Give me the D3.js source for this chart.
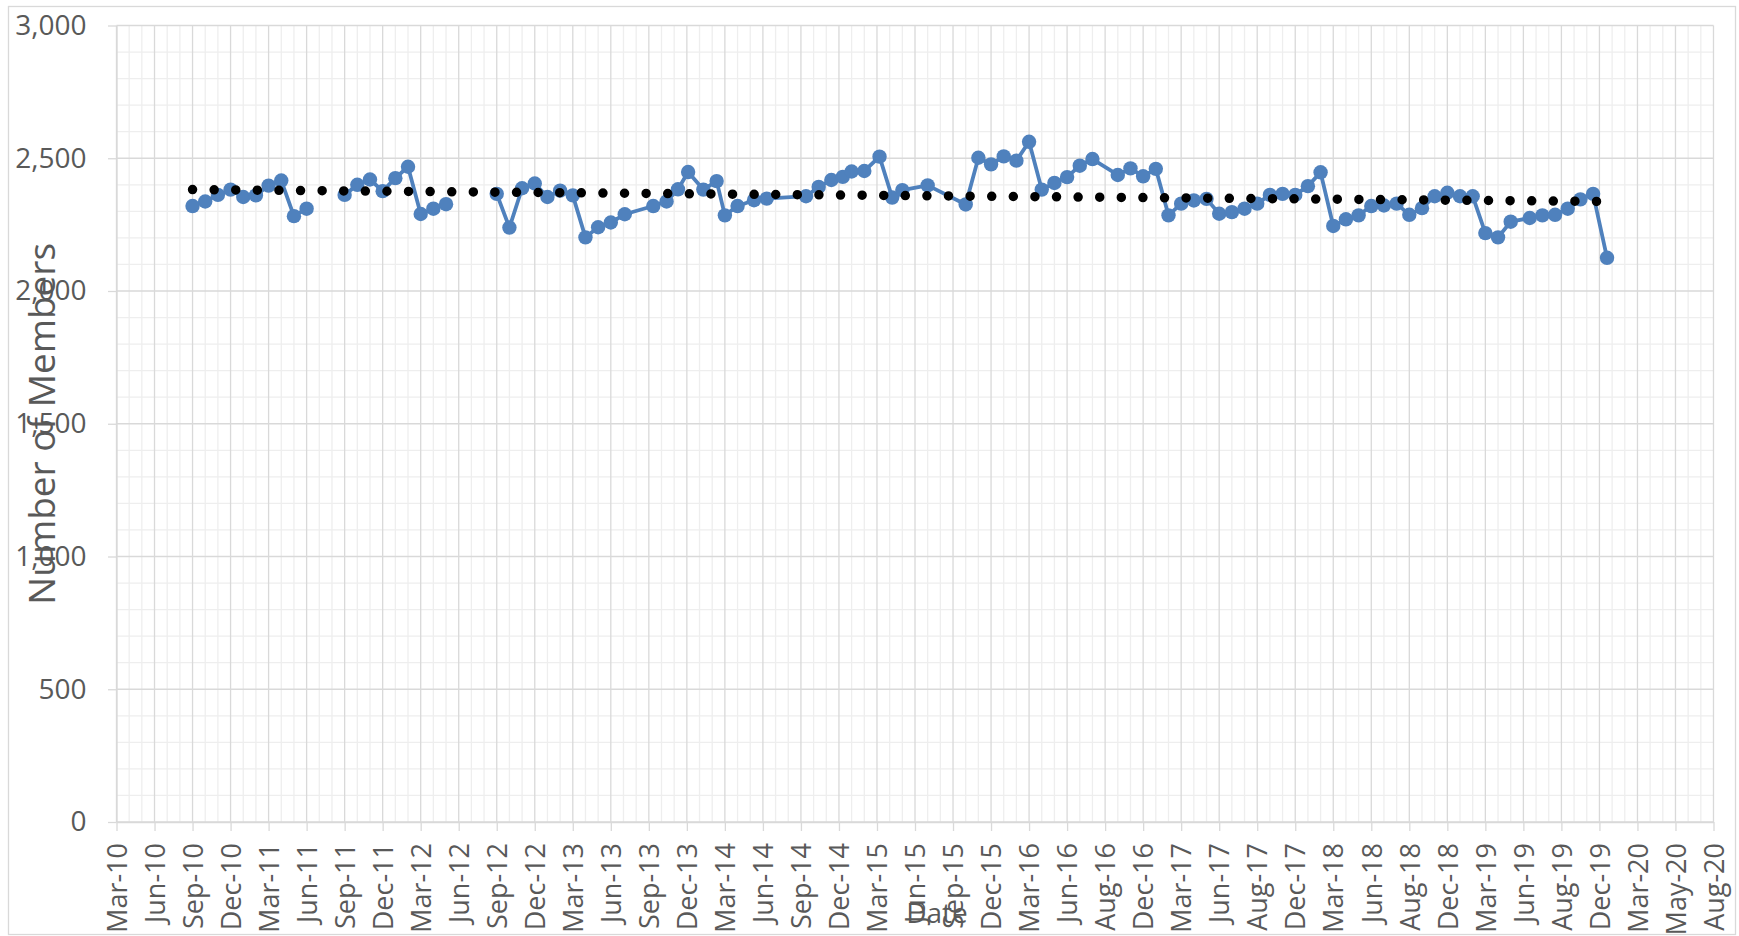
<!DOCTYPE html>
<html>
<head>
  <title>Number of Members</title>
  <script src="https://d3js.org/d3.v7.min.js"></script>
  <style>
    body { margin: 0; background: #fff; }
    text { font-family: "Open Sans", sans-serif; fill: #595959; }
  </style>
</head>
<body>

<div id="chart"></div>

<script>
// Tick labels on the x axis, one every 3 months (slot 0 = Mar-10)
const tickLabels = [
  "Mar-10", "Jun-10", "Sep-10", "Dec-10", "Mar-11", "Jun-11", "Sep-11", "Dec-11",
  "Mar-12", "Jun-12", "Sep-12", "Dec-12", "Mar-13", "Jun-13", "Sep-13", "Dec-13",
  "Mar-14", "Jun-14", "Sep-14", "Dec-14", "Mar-15", "Jun-15", "Sep-15", "Dec-15",
  "Mar-16", "Jun-16", "Aug-16", "Dec-16", "Mar-17", "Jun-17", "Aug-17", "Dec-17",
  "Mar-18", "Jun-18", "Aug-18", "Dec-18", "Mar-19", "Jun-19", "Aug-19", "Dec-19",
  "Mar-20", "May-20", "Aug-20"
];

// Position of each reading on the date axis, in months after Mar-10
const slots = [
  6, 7, 8, 9, 10, 11, 12, 13, 14, 15, 16, 17,
  18, 19, 20, 21, 22, 23, 24, 25, 26, 27, 28, 29,
  30, 31, 32, 33, 34, 35, 36, 37, 38, 39, 40.1,
  42.35, 43.4, 44.3, 45.1, 46.3, 47.35, 48, 49, 50.3, 51.3,
  54.4, 55.4, 56.4, 57.3, 58, 59, 60.2, 61.2, 62, 64, 67,
  68, 69, 70, 71, 72, 73, 74, 75, 76, 77, 79, 80, 81, 82,
  83, 84, 85, 86, 87, 88, 89, 90, 91, 92, 93, 94, 95,
  96, 97, 98, 99, 100, 101, 102, 103, 104, 105, 106, 107,
  108, 109, 110, 111.5, 112.5, 113.5, 114.5, 115.5, 116.5, 117.6
];

// Number of members (null = no reading that month)
const members = [
  2320, 2337, 2362, 2382, 2354, 2360, 2397, 2416, 2282, 2310, null, null,
  2362, 2400, 2420, 2376, 2425, 2468, 2290, 2310, 2327, null, null, null,
  2366, 2239, 2387, 2405, 2354, 2378, 2360, 2202, 2240, 2258, 2289,
  2320, 2337, 2383, 2448, 2382, 2414, 2285, 2320, 2342, 2348,
  2357, 2392, 2418, 2430, 2450, 2452, 2506, 2352, 2380, 2398, 2326,
  2502, 2477, 2507, 2491, 2562, 2382, 2407, 2429, 2472, 2497, 2437, 2462, 2432, 2460,
  2285, 2329, 2341, 2347, 2291, 2297, 2310, 2329, 2362, 2366, 2362, 2395, 2447,
  2245, 2270, 2285, 2320, 2322, 2329, 2287, 2312, 2357, 2370, 2357, 2357,
  2218, 2202, 2261, 2275, 2285, 2287, 2310, 2345, 2366, 2125
];

const yTicks = [0, 500, 1000, 1500, 2000, 2500, 3000];

const width = 1739;
const height = 936;
const margin = { top: 25.5, right: 25.5, bottom: 114, left: 116.5 };

const svg = d3.select("#chart")
  .append("svg")
  .attr("width", width)
  .attr("height", height);

svg.append("rect")
  .attr("width", width)
  .attr("height", height)
  .attr("fill", "#fff");

// chart border
svg.append("rect")
  .attr("x", 8.5)
  .attr("y", 6.5)
  .attr("width", 1727)
  .attr("height", 928)
  .attr("fill", "none")
  .attr("stroke", "#d9d9d9")
  .attr("stroke-width", 1.3);

const xMax = (tickLabels.length - 1) * 3;

const x = d3.scaleLinear()
  .domain([0, xMax])
  .range([margin.left, width - margin.right]);

const y = d3.scaleLinear()
  .domain([0, 3000])
  .range([height - margin.bottom, margin.top]);

const grid = svg.append("g");

// minor gridlines
grid.selectAll(".vminor")
  .data(d3.range(0, xMax + 1).filter(d => d % 3 !== 0))
  .enter().append("line")
  .attr("x1", d => x(d)).attr("x2", d => x(d))
  .attr("y1", y(0)).attr("y2", y(3000))
  .attr("stroke", "#eeeeee").attr("stroke-width", 1.3);

grid.selectAll(".hminor")
  .data(d3.range(0, 3001, 100).filter(d => d % 500 !== 0))
  .enter().append("line")
  .attr("x1", x(0)).attr("x2", x(xMax))
  .attr("y1", d => y(d)).attr("y2", d => y(d))
  .attr("stroke", "#eeeeee").attr("stroke-width", 1.3);

// major gridlines
grid.selectAll(".vmajor")
  .data(d3.range(0, xMax + 1, 3))
  .enter().append("line")
  .attr("x1", d => x(d)).attr("x2", d => x(d))
  .attr("y1", y(0)).attr("y2", y(3000))
  .attr("stroke", "#d9d9d9").attr("stroke-width", 1.3);

grid.selectAll(".hmajor")
  .data(yTicks)
  .enter().append("line")
  .attr("x1", x(0)).attr("x2", x(xMax))
  .attr("y1", d => y(d)).attr("y2", d => y(d))
  .attr("stroke", "#d9d9d9").attr("stroke-width", 1.3);

// axes
const xAxis = svg.append("g")
  .attr("transform", `translate(0,${y(0)})`)
  .call(d3.axisBottom(x)
    .tickValues(d3.range(0, xMax + 1, 3))
    .tickFormat((d, i) => tickLabels[i])
    .tickSize(9)
    .tickSizeOuter(0));

xAxis.selectAll("text")
  .attr("transform", "rotate(-90)")
  .attr("x", -21)
  .attr("y", 0)
  .attr("dy", "0.36em")
  .attr("text-anchor", "end")
  .style("font-size", "27px");

const yAxis = svg.append("g")
  .attr("transform", `translate(${x(0)},0)`)
  .call(d3.axisLeft(y)
    .tickValues(yTicks)
    .tickFormat(d3.format(","))
    .tickSize(8.5)
    .tickPadding(21.5)
    .tickSizeOuter(0));

yAxis.selectAll("text").style("font-size", "28px");

svg.selectAll(".domain, .tick line")
  .attr("stroke", "#d9d9d9")
  .attr("stroke-width", 1.3);

// series
const points = slots.map((s, i) => ({ slot: s, value: members[i] }));
const valid = points.filter(d => d.value !== null);

const line = d3.line()
  .defined(d => d.value !== null)
  .x(d => x(d.slot))
  .y(d => y(d.value));

svg.append("path")
  .datum(points)
  .attr("d", line)
  .attr("fill", "none")
  .attr("stroke", "#4f81bd")
  .attr("stroke-width", 3.8)
  .attr("stroke-linejoin", "round");

// linear trendline (least squares)
const mx = d3.mean(valid, d => d.slot);
const my = d3.mean(valid, d => d.value);
const slope = d3.sum(valid, d => (d.slot - mx) * (d.value - my)) /
  d3.sum(valid, d => (d.slot - mx) ** 2);
const trendX = d3.extent(valid, d => d.slot);
const trend = trendX.map(s => ({ slot: s, value: my + slope * (s - mx) }));

svg.append("g").selectAll("circle")
  .data(valid)
  .enter().append("circle")
  .attr("cx", d => x(d.slot))
  .attr("cy", d => y(d.value))
  .attr("r", 7.2)
  .attr("fill", "#4f81bd");

svg.append("path")
  .datum(trend)
  .attr("d", d3.line().x(d => x(d.slot)).y(d => y(d.value)))
  .attr("fill", "none")
  .attr("stroke", "#000")
  .attr("stroke-width", 9.5)
  .attr("stroke-linecap", "round")
  .attr("stroke-dasharray", "0 21.6");

// axis titles
svg.append("text")
  .attr("transform", `translate(42,${(y(0) + y(3000)) / 2}) rotate(-90)`)
  .attr("text-anchor", "middle")
  .attr("dy", "0.35em")
  .style("font-size", "37px")
  .text("Number of Members");

svg.append("text")
  .attr("x", 937)
  .attr("y", 913)
  .attr("text-anchor", "middle")
  .attr("dy", "0.35em")
  .style("font-size", "28px")
  .text("Date");
</script>

</body>
</html>
